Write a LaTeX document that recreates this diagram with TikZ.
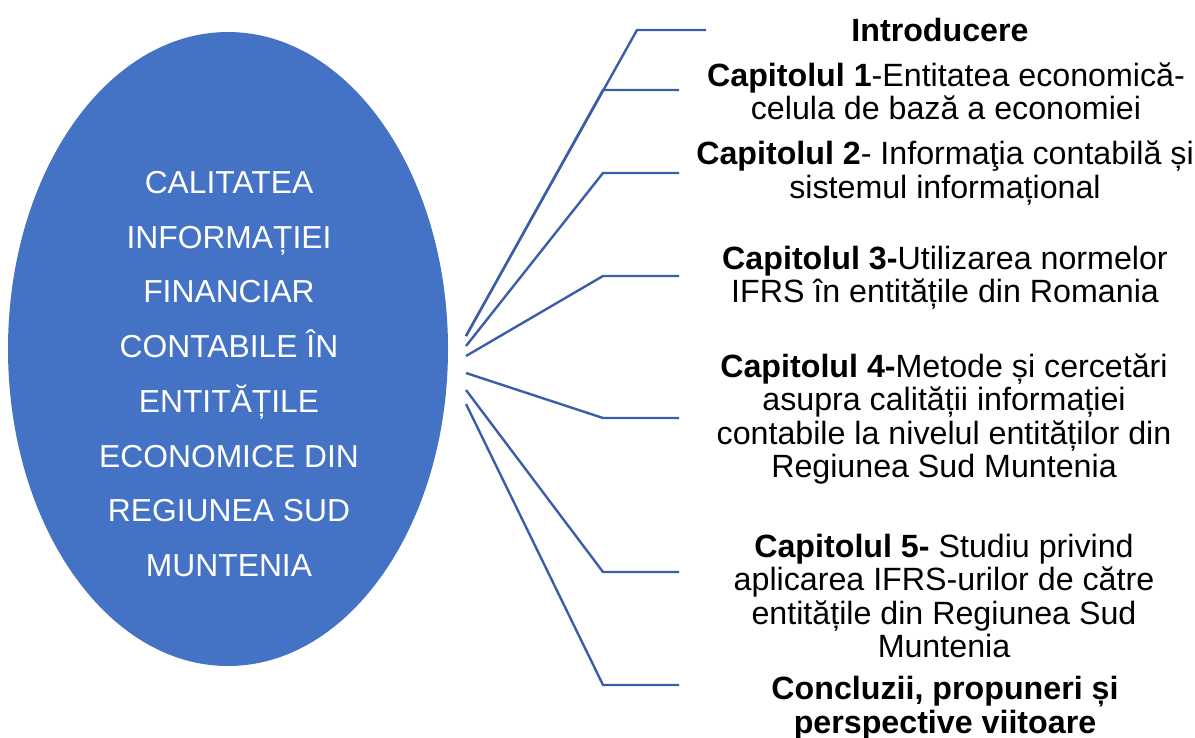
\documentclass[tikz,border=0pt]{standalone}
\usepackage{fontspec}
\setmainfont{Liberation Sans}
\definecolor{ellblue}{HTML}{4472C4}
\definecolor{lineblue}{HTML}{3A5FA8}
\begin{document}
\begin{tikzpicture}[x=1pt,y=-1pt,
  conn/.style={draw=lineblue,line width=2.4pt},
  chap/.style={align=center,font=\fontsize{32.2}{33.4}\selectfont,inner sep=0pt}]
\useasboundingbox (0,0) rectangle (1195,737);
\fill[white] (0,0) rectangle (1195,737);
% central ellipse
\fill[ellblue] (228,349) ellipse[x radius=220pt,y radius=317pt];
\node[coordinate] (ell) at (228,349) {};
\node[text=white,align=center,inner sep=0pt,font=\fontsize{31.8}{54.7}\selectfont] (title) at (229,374)
 {CALITATEA\\INFORMAȚIEI\\FINANCIAR\\CONTABILE ÎN\\ENTITĂȚILE\\ECONOMICE DIN\\REGIUNEA SUD\\MUNTENIA};
% connector start points
\coordinate (s1) at (466,336);
\coordinate (s2) at (466,346);
\coordinate (s3) at (466,356);
\coordinate (s4) at (466,373);
\coordinate (s5) at (466,390);
\coordinate (s6) at (466,404);
% bends and ends
\coordinate (b0) at (637,30);  \coordinate (e0) at (706,30);
\coordinate (b1) at (603,90);  \coordinate (e1) at (679,90);
\coordinate (b2) at (603,173); \coordinate (e2) at (679,173);
\coordinate (b3) at (603,276); \coordinate (e3) at (679,276);
\coordinate (b4) at (603,418); \coordinate (e4) at (679,418);
\coordinate (b5) at (603,572); \coordinate (e5) at (679,572);
\coordinate (b6) at (603,685); \coordinate (e6) at (679,685);
\draw[conn] (s1) -- (b0) -- (e0);
\draw[conn] (s1) -- (b1) -- (e1);
\draw[conn] (s2) -- (b2) -- (e2);
\draw[conn] (s3) -- (b3) -- (e3);
\draw[conn] (s4) -- (b4) -- (e4);
\draw[conn] (s5) -- (b5) -- (e5);
\draw[conn] (s6) -- (b6) -- (e6);
% chapter texts
\node[chap] (t0) at (940,30) {\textbf{Introducere}};
\node[chap] (t1) at (946,91) {\textbf{Capitolul 1}-Entitatea economică-\\celula de bază a economiei};
\node[chap] (t2) at (945,173) {\textbf{Capitolul 2}- Informaţia contabilă și\\sistemul informațional};
\node[chap] (t3) at (945,278) {\textbf{Capitolul 3-}Utilizarea normelor\\IFRS în entitățile din Romania};
\node[chap] (t4) at (944,419) {\textbf{Capitolul 4-}Metode și cercetări\\asupra calității informației\\contabile la nivelul entităților din\\Regiunea Sud Muntenia};
\node[chap] (t5) at (944,596) {\textbf{Capitolul 5-} Studiu privind\\aplicarea IFRS-urilor de către\\entitățile din Regiunea Sud\\Muntenia};
\node[chap] (t6) at (945,708) {\textbf{Concluzii, propuneri și}\\\textbf{perspective viitoare}};
\end{tikzpicture}
\end{document}
